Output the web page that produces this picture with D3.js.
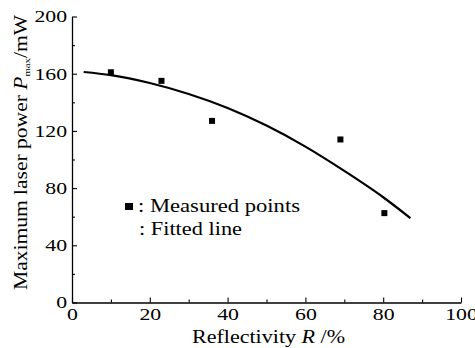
<!DOCTYPE html>
<html><head><meta charset="utf-8">
<script src="https://cdn.jsdelivr.net/npm/d3@7"></script>
</head>
<body style="margin:0"><svg id="c" width="475" height="348"></svg>
<script>
const measuredR = [10, 23, 36, 69, 80.3];
const measuredP = [161, 155, 127, 114, 62.5];
const fitR = [3, 10, 20, 30, 40, 50, 60, 70, 80, 87];
const fitP = [161.2, 159, 153.5, 145.8, 136, 123.7, 109, 92, 73.6, 59];
const xTicks = [0, 20, 40, 60, 80, 100];
const yTicks = [0, 40, 80, 120, 160, 200];
const xLabel = "Reflectivity ";
const yLabel = "Maximum laser power ";
const legendLabels = [": Measured points", ": Fitted line"];

const svg = d3.select("#c");
const x = d3.scaleLinear().domain([0, 100]).range([72, 461]);
const y = d3.scaleLinear().domain([0, 200]).range([302.5, 16.5]);
const SX = 1.28;

function serif(t, size) {
  return t.attr("font-family", "Liberation Serif").attr("font-size", size)
    .style("font-family", '"Liberation Serif"');
}
function stretch(t, k) {
  const w = t.node().getComputedTextLength();
  t.attr("textLength", w * k).attr("lengthAdjust", "spacingAndGlyphs");
}

// minor ticks
svg.append("g").attr("transform", `translate(0,${y(0)})`)
  .call(d3.axisBottom(x).tickValues(d3.range(10, 100, 20)).tickSize(-3).tickFormat(""))
  .call(g => g.select(".domain").remove());
svg.append("g").attr("transform", `translate(${x(0)},0)`)
  .call(d3.axisLeft(y).tickValues(d3.range(20, 200, 40)).tickSize(-3).tickFormat(""))
  .call(g => g.select(".domain").remove());

// major axes
const gx = svg.append("g").attr("transform", `translate(0,${y(0)})`)
  .call(d3.axisBottom(x).tickValues(xTicks).tickSize(-5).tickSizeOuter(0).tickPadding(5.5).tickFormat(d3.format("d")));
gx.attr("font-family", "Liberation Serif").attr("font-size", 17);
gx.selectAll("text").each(function () { stretch(serif(d3.select(this), 17), SX); });
const gy = svg.append("g").attr("transform", `translate(${x(0)},0)`)
  .call(d3.axisLeft(y).tickValues(yTicks).tickSize(-5).tickSizeOuter(0).tickPadding(5).tickFormat(d3.format("d")));
gy.attr("font-family", "Liberation Serif").attr("font-size", 17);
gy.selectAll("text").each(function () { stretch(serif(d3.select(this), 17), SX); });
svg.selectAll(".domain").attr("stroke-width", 1.3);
svg.selectAll(".tick line").attr("stroke-width", 1.1);

// fitted line
const pts = fitR.map((r, i) => [x(r), y(fitP[i])]);
svg.append("path").attr("d", d3.line().curve(d3.curveMonotoneX)(pts))
  .attr("fill", "none").attr("stroke", "#000").attr("stroke-width", 2.2);

// measured points
svg.selectAll("rect.pt").data(measuredR).join("rect").attr("class", "pt")
  .attr("x", (d) => x(d) - 3).attr("y", (d, i) => y(measuredP[i]) - 3)
  .attr("width", 6).attr("height", 6).attr("fill", "#000");

// legend
svg.append("rect").attr("x", 125).attr("y", 203).attr("width", 8).attr("height", 7).attr("fill", "#000");
const t1 = serif(svg.append("text").attr("x", 138).attr("y", 212), 18.5).text(legendLabels[0]);
t1.attr("textLength", 162).attr("lengthAdjust", "spacingAndGlyphs");
const t2 = serif(svg.append("text").attr("x", 139).attr("y", 235), 18.5).text(legendLabels[1]);
t2.attr("textLength", 103).attr("lengthAdjust", "spacingAndGlyphs");

// x label
const tx = serif(svg.append("text").attr("x", 192).attr("y", 343), 18);
tx.append("tspan").text(xLabel);
tx.append("tspan").attr("font-style", "italic").text("R");
tx.append("tspan").text(" /%");
tx.attr("textLength", 153).attr("lengthAdjust", "spacingAndGlyphs");

// y label
const ty = serif(svg.append("text").attr("transform", "translate(27,290) rotate(-90)"), 18);
ty.append("tspan").text(yLabel);
ty.append("tspan").attr("font-style", "italic").text("P");
ty.append("tspan").attr("font-size", 9).attr("dy", 3).text("max");
ty.append("tspan").attr("dy", -3).text("/mW");
ty.attr("textLength", 275).attr("lengthAdjust", "spacingAndGlyphs");
</script></body></html>
